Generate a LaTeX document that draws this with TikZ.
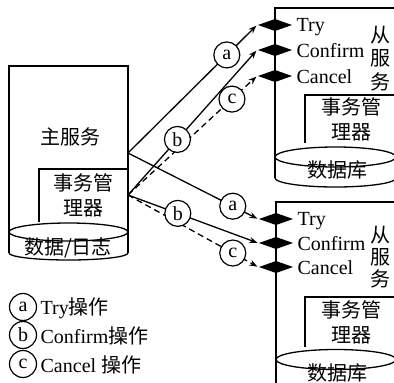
\documentclass[tikz,border=0pt]{standalone}
\usepackage{fontspec}
\setmainfont{Liberation Serif}
\newfontfamily\cjk{Noto Sans CJK SC}
\usetikzlibrary{shapes.geometric,arrows.meta}
\begin{document}
\begin{tikzpicture}[x=1pt,y=-1pt,line width=1.3pt,
  every node/.style={font=\fontsize{20}{24}\selectfont},
  cn/.style={font=\cjk\fontsize{20}{25}\selectfont,align=center,inner sep=0pt},
  lbl/.style={circle,draw,solid,line width=1.2pt,fill=white,inner sep=0pt,minimum size=26pt,font=\fontsize{20}{20}\selectfont},
  tip/.style={inner sep=0pt,minimum size=0pt},
  conn/.style={-{Stealth[length=8pt,width=6pt]}},
  dsh/.style={dash pattern=on 6pt off 4pt},
  op/.style={anchor=west,inner sep=0pt}
]
\useasboundingbox (0,0) rectangle (394,383);

% ---------- main service ----------
\draw (9,253) -- (9,66) -- (128,66) -- (128,253);
\draw (9,253) arc[start angle=180,end angle=0,x radius=59.5,y radius=7];
\draw (68.5,232) ellipse[x radius=59.5,y radius=9];
\draw (39,222) -- (39,169) -- (128,169);
\node[cn] (main) at (70,137) {主服务};
\node[cn] (tmm) at (83.5,195) {事务管\\理器};
\node[cn] (db0) at (68,248) {数据/日志};
\coordinate (J1) at (128,153);
\coordinate (J2) at (128,195);

% ---------- upper slave service ----------
\draw (275,178) -- (275,8) -- (396,8);
\draw (275,178) arc[start angle=180,end angle=0,x radius=60.5,y radius=9];
\draw (335.5,157) ellipse[x radius=60.5,y radius=10];
\draw (305,143) -- (305,95) -- (396,95);
\node[cn] (ut1) at (351,119) {事务管\\理器};
\node[cn] (udb) at (337,170) {数据库};
\node[cn] at (380,35) {从};
\node[cn] at (380,58) {服};
\node[cn] at (380,82) {务};
\foreach \yy in {25,50,76} {\fill (258,\yy) -- (275,\yy-6) -- (292,\yy) -- (275,\yy+6) -- cycle;}
\node[tip] (ut) at (257,25) {};
\node[tip] (uf) at (257,50) {};
\node[tip] (uc) at (257,76) {};
\node[op] at (296,27) {Try};
\node[op] at (296,51) {Confirm};
\node[op] at (296,77) {Cancel};

% ---------- lower slave service ----------
\draw (276,390) -- (276,202) -- (396,202);
\draw (336,359.5) ellipse[x radius=60,y radius=10];
\draw (305,347) -- (305,297) -- (396,297);
\node[cn] (lt1) at (351,322) {事务管\\理器};
\node[cn] (ldb) at (337,373) {数据库};
\node[cn] at (380,235) {从};
\node[cn] at (380,257) {服};
\node[cn] at (380,279) {务};
\foreach \yy in {219,243,267} {\fill (259,\yy) -- (276,\yy-6) -- (293,\yy) -- (276,\yy+6) -- cycle;}
\node[tip] (lt) at (258,219) {};
\node[tip] (lf) at (258,243) {};
\node[tip] (lc) at (258,267) {};
\node[op] at (297,221) {Try};
\node[op] at (297,244) {Confirm};
\node[op] at (297,268) {Cancel};

% ---------- connectors ----------
\draw[conn] (J1) -- coordinate[pos=.77] (pa1) (ut);
\draw[conn] (J2) -- coordinate[pos=.385] (pb1) (uf);
\draw[conn,dsh] (J2) -- coordinate[pos=.81] (pc1) (uc);
\draw[conn] (J1) -- coordinate[pos=.81] (pa2) (lt);
\draw[conn] (J2) -- coordinate[pos=.385] (pb2) (lf);
\draw[conn,dsh] (J2) -- coordinate[pos=.81] (pc2) (lc);
\node[lbl] (ca1) at (pa1) {a};
\node[lbl] (cb1) at (pb1) {b};
\node[lbl] (cc1) at (pc1) {c};
\node[lbl] (ca2) at (pa2) {a};
\node[lbl] (cb2) at (pb2) {b};
\node[lbl] (cc2) at (pc2) {c};

% ---------- legend ----------
\node[lbl,minimum size=27pt] (la) at (23,307) {a};
\node[lbl,minimum size=27pt] (lb) at (23,335) {b};
\node[lbl,minimum size=27pt] (lc0) at (23,364) {c};
\node[op] at (40,308) {Try{\cjk 操作}};
\node[op] at (40,336) {Confirm{\cjk 操作}};
\node[op] at (40,365) {Cancel {\cjk 操作}};
\end{tikzpicture}
\end{document}
